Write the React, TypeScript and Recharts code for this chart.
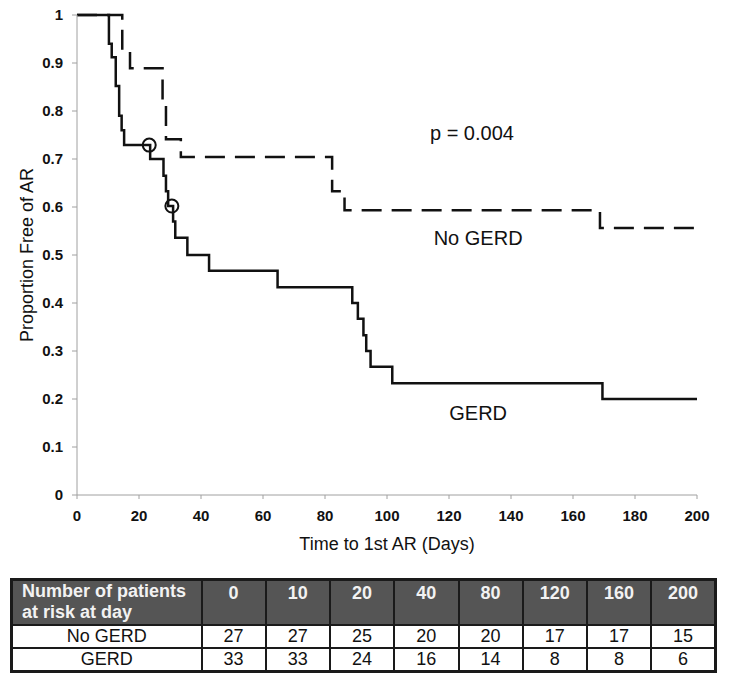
import { ComposedChart, Line, Scatter, XAxis, YAxis, ReferenceDot } from "recharts";

// Kaplan-Meier steps (days, proportion free of AR)
const gerdDays = [0, 10.3, 11.2, 12.5, 13.6, 14.4, 15.2, 23.6, 27.9, 28.7, 29.4, 31.0, 31.7, 35.6, 42.6, 64.7, 88.8, 90.6, 92.4, 93.3, 94.7, 101.7, 169.5, 200];
const gerdFree = [1, 0.94, 0.912, 0.852, 0.79, 0.76, 0.729, 0.70, 0.665, 0.633, 0.602, 0.57, 0.536, 0.50, 0.467, 0.433, 0.40, 0.367, 0.333, 0.30, 0.267, 0.233, 0.20, 0.20];

const noGerdDays = [0, 14.6, 17.1, 27.6, 28.7, 33.5, 82.3, 86.3, 168.7, 200];
const noGerdFree = [1, 0.926, 0.889, 0.815, 0.741, 0.704, 0.633, 0.593, 0.556, 0.556];

// censored observations marked with open circles on the GERD curve
const censorDays = [23.3, 30.6];
const censorFree = [0.729, 0.602];

const xTicks = [0, 20, 40, 60, 80, 100, 120, 140, 160, 180, 200];
const yTicks = [0, 0.1, 0.2, 0.3, 0.4, 0.5, 0.6, 0.7, 0.8, 0.9, 1];

const riskDays = ["0", "10", "20", "40", "80", "120", "160", "200"];
const riskNoGerd = [27, 27, 25, 20, 20, 17, 17, 15];
const riskGerd = [33, 33, 24, 16, 14, 8, 8, 6];

const toPoints = (days: number[], vals: number[]) => days.map((t, i) => ({ t, s: vals[i] }));

const gerdData = toPoints(gerdDays, gerdFree);
const noGerdData = toPoints(noGerdDays, noGerdFree);
const censorData = toPoints(censorDays, censorFree);

const font = "Arial, 'Liberation Sans', sans-serif";
const axisGray = "#a0a0a0";

const cell: React.CSSProperties = {
  border: "2px solid #1a1a1a",
  textAlign: "center",
  padding: 0,
};

export default function App() {
  return (
    <div style={{ position: "absolute", left: 0, top: 0, width: 729, height: 681, background: "#fff", fontFamily: font }}>
      <ComposedChart width={729} height={560} margin={{ top: 15, right: 32, left: 10, bottom: 0 }}>
        <XAxis
          type="number"
          dataKey="t"
          domain={[0, 200]}
          ticks={xTicks}
          tickSize={4}
          tickMargin={11}
          axisLine={{ stroke: axisGray }}
          tickLine={{ stroke: axisGray }}
          tick={{ fontSize: 15, fontWeight: "bold", fill: "#111", fontFamily: font }}
          height={65}
          label={{ value: "Time to 1st AR (Days)", position: "insideBottom", offset: 10, fontSize: 18, fill: "#111", fontFamily: font }}
        />
        <YAxis
          type="number"
          dataKey="s"
          domain={[0, 1]}
          ticks={yTicks}
          width={67}
          tickSize={5}
          tickMargin={9}
          axisLine={{ stroke: axisGray }}
          tickLine={{ stroke: axisGray }}
          tick={{ fontSize: 15, fontWeight: "bold", fill: "#111", fontFamily: font }}
          label={{
            value: "Proportion Free of AR",
            angle: -90,
            position: "insideLeft",
            offset: 17,
            fontSize: 18,
            fill: "#111",
            fontFamily: font,
            style: { textAnchor: "middle" },
          }}
        />
        <Line
          data={noGerdData}
          dataKey="s"
          type="stepAfter"
          stroke="#111"
          strokeWidth={2.5}
          strokeDasharray="20 10"
          dot={false}
          activeDot={false}
          isAnimationActive={false}
        />
        <Line
          data={gerdData}
          dataKey="s"
          type="stepAfter"
          stroke="#111"
          strokeWidth={2.5}
          dot={false}
          activeDot={false}
          isAnimationActive={false}
        />
        <Scatter
          data={censorData}
          dataKey="s"
          isAnimationActive={false}
          shape={(p: any) => <circle cx={p.cx} cy={p.cy} r={6.5} fill="none" stroke="#111" strokeWidth={2} />}
        />
        <ReferenceDot x={127.4} y={0.754} r={0} fill="none" stroke="none"
          label={{ value: "p = 0.004", position: "center", fontSize: 20, fill: "#111", fontFamily: font }} />
        <ReferenceDot x={129.4} y={0.536} r={0} fill="none" stroke="none"
          label={{ value: "No GERD", position: "center", fontSize: 20, fill: "#111", fontFamily: font }} />
        <ReferenceDot x={129.4} y={0.171} r={0} fill="none" stroke="none"
          label={{ value: "GERD", position: "center", fontSize: 20, fill: "#111", fontFamily: font }} />
      </ComposedChart>

      <table
        style={{
          position: "absolute",
          left: 10,
          top: 578,
          width: 707,
          borderCollapse: "collapse",
          tableLayout: "fixed",
          fontFamily: font,
          border: "3px solid #1a1a1a",
        }}
      >
        <colgroup>
          <col style={{ width: 190 }} />
          {riskDays.map((d) => (
            <col key={d} />
          ))}
        </colgroup>
        <tbody>
          <tr style={{ height: 45, background: "#555", color: "#f2f2f2", fontWeight: "bold", fontSize: 18 }}>
            <td style={{ ...cell, textAlign: "left", paddingLeft: 9, lineHeight: "21px" }}>
              Number of patients
              <br />
              at risk at day
            </td>
            {riskDays.map((d) => (
              <td key={d} style={{ ...cell, verticalAlign: "top", paddingTop: 2 }}>
                {d}
              </td>
            ))}
          </tr>
          <tr style={{ height: 23, fontSize: 18, color: "#111" }}>
            <td style={cell}>No GERD</td>
            {riskNoGerd.map((n, i) => (
              <td key={i} style={cell}>
                {n}
              </td>
            ))}
          </tr>
          <tr style={{ height: 23, fontSize: 18, color: "#111" }}>
            <td style={cell}>GERD</td>
            {riskGerd.map((n, i) => (
              <td key={i} style={cell}>
                {n}
              </td>
            ))}
          </tr>
        </tbody>
      </table>
    </div>
  );
}
